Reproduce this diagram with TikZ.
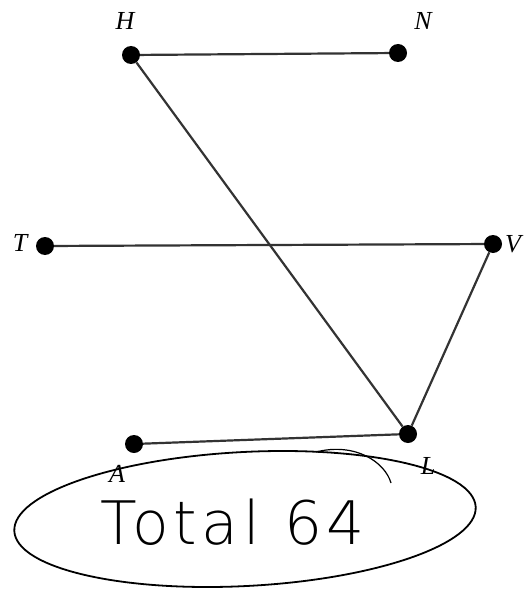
\documentclass[tikz,border=0pt]{standalone}
\usepackage{fontspec}
\setmainfont{Liberation Serif}
\newfontfamily\handfont[LetterSpace=8]{DejaVu Sans ExtraLight}
\begin{document}
\begin{tikzpicture}[x=1pt,y=-1pt,
  vtx/.style={circle,fill=black,inner sep=0pt,minimum size=18pt},
  lbl/.style={font=\fontsize{26}{28}\selectfont\itshape},
  edge/.style={line width=2.2pt,black!80}]
\useasboundingbox (0,0) rectangle (532,591);
\node[vtx] (H) at (131,55) {};
\node[vtx] (N) at (398,53) {};
\node[vtx] (T) at (45,246) {};
\node[vtx] (V) at (493,244) {};
\node[vtx] (A) at (134,444) {};
\node[vtx] (L) at (408,434) {};
\node[lbl] (lH) at (125,21) {H};
\node[lbl] (lN) at (423,21) {N};
\node[lbl] (lT) at (20,243) {T};
\node[lbl] (lV) at (513,244) {V};
\node[lbl] (lA) at (117,474) {A};
\node[lbl] (lL) at (428,466) {L};
\draw[edge] (H) -- (N);
\draw[edge] (H) -- (L);
\draw[edge] (T) -- (V);
\draw[edge] (V) -- (L);
\draw[edge] (A) -- (L);
\draw[line width=1.8pt] (245,519) ellipse [x radius=231, y radius=67, rotate=3];
\draw[line width=1.2pt] (316,452) .. controls (355,442) and (385,462) .. (391,483);
\node[font=\handfont\fontsize{60}{62}\selectfont] (tot) at (233,522) {Total 64};
\end{tikzpicture}
\end{document}
